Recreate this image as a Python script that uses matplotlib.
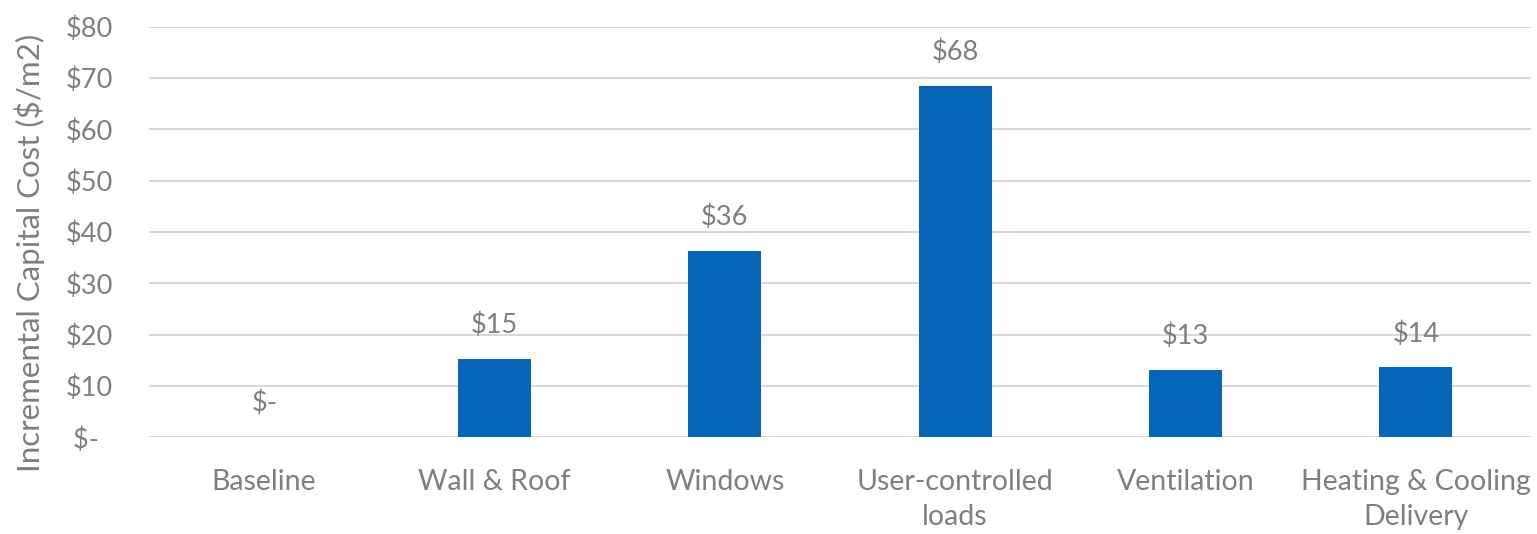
import matplotlib
matplotlib.use("Agg")
import matplotlib.pyplot as plt
from matplotlib.ticker import FuncFormatter

categories = ["Baseline", "Wall & Roof", "Windows", "User-controlled\nloads",
              "Ventilation", "Heating & Cooling\nDelivery"]
values = [0, 15.2, 36.3, 68.5, 13.2, 13.6]
y_ticks = [0, 10, 20, 30, 40, 50, 60, 70, 80]

plt.rcParams['font.family'] = ['Lato', 'DejaVu Sans']
TXT = '#7f7f7f'
BAR = '#0666b7'

fig = plt.figure(figsize=(15.37, 5.34), dpi=100)
ax = fig.add_axes([149/1537, 1-437.3/534, 1382/1537, 410.7/534])

x = list(range(len(categories)))
bars = ax.bar(x, values, width=0.317, color=BAR, zorder=3)

def money(v):
    return "$-" if round(v) == 0 else f"${round(v):.0f}"

for xi, v in zip(x, values):
    ax.annotate(money(v), (xi, v), xytext=(0, 15), textcoords='offset points',
                ha='center', va='bottom', fontsize=19.5, color=TXT)

ax.set_xlim(-0.5, len(categories) - 0.5)
ax.set_ylim(0, 80)
ax.set_yticks(y_ticks)
ax.yaxis.set_major_formatter(FuncFormatter(lambda v, p: "$-  " if v == 0 else f"${v:.0f}"))
ax.set_xticks(x)
ax.set_xticklabels(categories, linespacing=1.4)
ax.tick_params(axis='both', length=0, labelsize=19.5, labelcolor=TXT)
ax.tick_params(axis='x', labelsize=20.5, pad=23)
ax.tick_params(axis='y', pad=26)
ax.grid(axis='y', color='#d9d9d9', linewidth=1.5, zorder=0)
for s in ax.spines.values():
    s.set_visible(False)

fig.text(30/1537, 1-253/534, "Incremental Capital Cost ($/m2)", rotation=90,
         ha='center', va='center', fontsize=22.5, color=TXT)

fig.savefig("out.png", dpi=100)
